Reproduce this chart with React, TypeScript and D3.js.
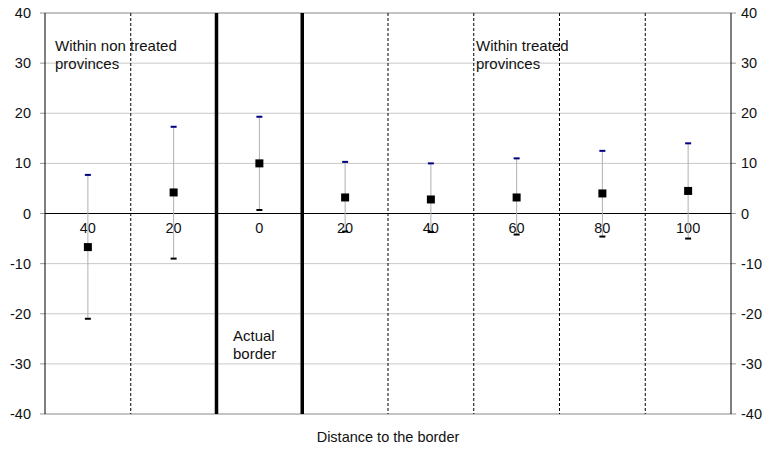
import React, { useEffect, useRef } from "react";
import * as d3 from "d3";

// distance bins, left of the border then right of it
const categories = ["40", "20", "0", "20", "40", "60", "80", "100"];
const estimates = [-6.7, 4.2, 10.0, 3.2, 2.8, 3.2, 4.0, 4.5];
const upper = [7.7, 17.3, 19.3, 10.3, 10.0, 11.0, 12.5, 14.0];
const lower = [-21.0, -9.0, 0.7, -3.6, -3.7, -4.2, -4.6, -5.0];
const yTicks = [-40, -30, -20, -10, 0, 10, 20, 30, 40];
// which dividers between bins are the actual border (thick)
const borderDividers = [2, 3];

const W = 766;
const H = 451;
const FONT = "'Liberation Sans', Arial, sans-serif";

export default function App() {
  const ref = useRef<SVGSVGElement>(null);

  useEffect(() => {
    const svg = d3.select(ref.current);
    svg.selectAll("*").remove();

    const left = 45, right = 731, top = 13, bottom = 414;

    const x = d3.scaleBand<number>()
      .domain(d3.range(categories.length))
      .range([left, right]);
    const y = d3.scaleLinear().domain([-40, 40]).range([bottom, top]);
    const cx = (i: number) => (x(i) as number) + x.bandwidth() / 2;

    // horizontal grid
    svg.append("g").selectAll("line")
      .data(yTicks)
      .enter()
      .append("line")
      .attr("x1", left).attr("x2", right)
      .attr("y1", d => y(d)).attr("y2", d => y(d))
      .attr("stroke", d => (d === 40 || d === -40) ? "#888" : "#c8c8c8")
      .attr("stroke-width", 1)

    // tick marks left and right
    svg.append("g").selectAll("line")
      .data(yTicks)
      .enter()
      .append("line")
      .attr("x1", left - 5).attr("x2", left)
      .attr("y1", d => y(d)).attr("y2", d => y(d))
      .attr("stroke", "#999")
    svg.append("g").selectAll("line")
      .data(yTicks)
      .enter()
      .append("line")
      .attr("x1", right).attr("x2", right + 5)
      .attr("y1", d => y(d)).attr("y2", d => y(d))
      .attr("stroke", "#999")

    // tick labels
    svg.append("g").selectAll("text")
      .data(yTicks)
      .enter()
      .append("text")
      .attr("x", left - 14)
      .attr("y", d => y(d) + 5)
      .attr("text-anchor", "end")
      .text(d => d)
    svg.append("g").selectAll("text")
      .data(yTicks)
      .enter()
      .append("text")
      .attr("x", right + 10)
      .attr("y", d => y(d) + 5)
      .text(d => d)

    // vertical dividers between bins
    const dividers = d3.range(1, categories.length)
    svg.append("g").selectAll("line")
      .data(dividers)
      .enter()
      .append("line")
      .attr("x1", d => x(d) as number).attr("x2", d => x(d) as number)
      .attr("y1", top).attr("y2", bottom)
      .attr("stroke", "#000")
      .attr("stroke-width", d => borderDividers.includes(d) ? 3.5 : 1)
      .attr("stroke-dasharray", d => borderDividers.includes(d) ? null : "3,2")

    // zero line
    svg.append("line")
      .attr("x1", left).attr("x2", right)
      .attr("y1", y(0)).attr("y2", y(0))
      .attr("stroke", "#000")

    // axis frame sides
    svg.append("line")
      .attr("x1", left).attr("x2", left)
      .attr("y1", top).attr("y2", bottom)
      .attr("stroke", "#000")
    svg.append("line")
      .attr("x1", right).attr("x2", right)
      .attr("y1", top).attr("y2", bottom)
      .attr("stroke", "#000")

    // category labels just under the zero line
    svg.append("g").selectAll("text")
      .data(categories)
      .enter()
      .append("text")
      .attr("x", (d, i) => cx(i))
      .attr("y", y(0) + 19)
      .attr("text-anchor", "middle")
      .text(d => d)

    // error bars
    const idx = d3.range(categories.length)
    svg.append("g").selectAll("line")
      .data(idx)
      .enter()
      .append("line")
      .attr("x1", i => cx(i)).attr("x2", i => cx(i))
      .attr("y1", i => y(upper[i])).attr("y2", i => y(lower[i]))
      .attr("stroke", "#b0b0b0")
    svg.append("g").selectAll("line")
      .data(idx)
      .enter()
      .append("line")
      .attr("x1", i => cx(i) - 3).attr("x2", i => cx(i) + 3)
      .attr("y1", i => y(upper[i])).attr("y2", i => y(upper[i]))
      .attr("stroke", "#000080")
      .attr("stroke-width", 2)
    svg.append("g").selectAll("line")
      .data(idx)
      .enter()
      .append("line")
      .attr("x1", i => cx(i) - 3).attr("x2", i => cx(i) + 3)
      .attr("y1", i => y(lower[i])).attr("y2", i => y(lower[i]))
      .attr("stroke", "#000")
      .attr("stroke-width", 2)

    // point estimates
    svg.append("g").selectAll("rect")
      .data(idx)
      .enter()
      .append("rect")
      .attr("x", i => cx(i) - 4)
      .attr("y", i => y(estimates[i]) - 4)
      .attr("width", 8).attr("height", 8)
      .attr("fill", "#000")

    // annotations
    const note = (lines: string[], px: number, py: number) => {
      const t = svg.append("text").attr("x", px).attr("y", py).style("font-size", "15px")
      lines.forEach((s, k) => {
        t.append("tspan").attr("x", px).attr("dy", k === 0 ? 0 : 18).text(s)
      })
    }
    note(["Within non treated", "provinces"], 55, 51)
    note(["Within treated", "provinces"], 476, 51)
    note(["Actual", "border"], 233, 341)

    svg.append("text")
      .attr("x", (left + right) / 2)
      .attr("y", 442)
      .attr("text-anchor", "middle")
      .text("Distance to the border")
  }, [])

  return (
    <svg ref={ref} width={W} height={H}
      style={{ position: "absolute", left: 0, top: 0, fontFamily: FONT, fontSize: 14.5, fill: "#111" }} />
  )
}
